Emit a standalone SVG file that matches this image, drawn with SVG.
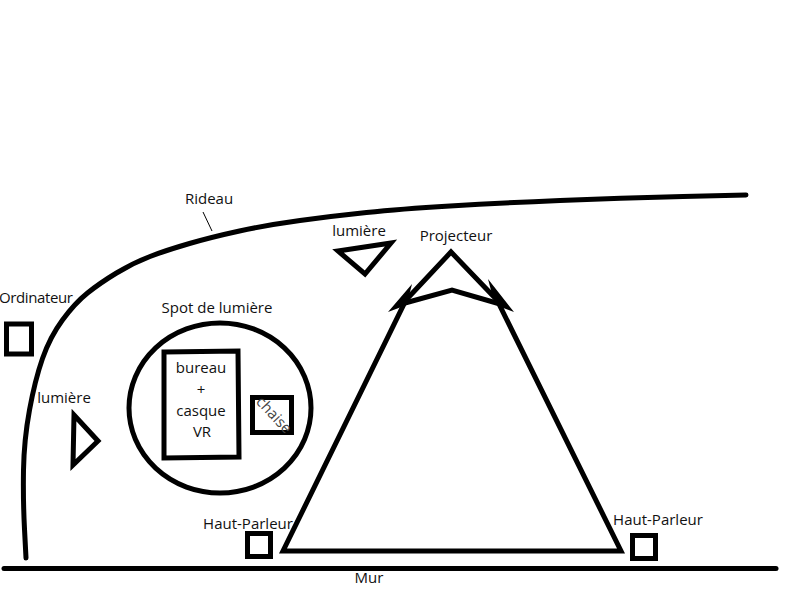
<svg xmlns="http://www.w3.org/2000/svg" width="800" height="600" viewBox="0 0 800 600">
<style>
.s{fill:none;stroke:#000;stroke-width:5;stroke-linejoin:miter;stroke-linecap:round}
.b{stroke-linecap:butt}
.t{font-family:"Open Sans","Noto Sans",sans-serif;font-size:15px;fill:#111;text-anchor:middle}
</style>
<rect width="800" height="600" fill="#fff"/>
<g id="connectors">
<path id="mur" class="s" d="M4 568.500H776"/>
<path id="rideau" class="s" d="M26 558L24.500 529Q23 500 23.500 470Q24 440 29.500 410Q35 380 42.500 358.500Q50 337 62.500 320Q75 303 87.500 293Q100 283 116.500 273Q133 263 150 256.500Q167 250 189.500 243.500Q212 237 239.500 231Q267 225 300 220.500Q333 216 366.500 212.500Q400 209 450 206Q500 203 560 200.500Q620 198 683 196.500L746 195"/>
<path id="rideau-leader" d="M203 212L212 231" fill="none" stroke="#000" stroke-width="1"/>
</g>
<g id="projecteur">
<path class="s" d="M283 551H621L497 300L451 252L406 300Z"/>
<path class="s" d="M405 303L452 290L500 304"/>
<path d="M388 312L412 284L408 300L404 306ZM514 312L488 279L493 298L498 306Z" fill="#000"/>
<text class="t" x="456" y="241">Projecteur</text>
</g>
<g id="rideau-label"><text class="t" x="209" y="204">Rideau</text></g>
<g id="lumiere-haut">
<path class="s" d="M338 251L391 243L365 274Z"/>
<text class="t" x="359" y="236">lumière</text>
</g>
<g id="ordinateur">
<rect class="s b" x="6.500" y="324" width="25" height="30"/>
<text class="t" x="36" y="303" textLength="74">Ordinateur</text>
</g>
<g id="lumiere-gauche">
<path class="s" d="M74 415L98 441L73 465Z"/>
<text class="t" x="64" y="403">lumière</text>
</g>
<g id="spot">
<ellipse class="s" cx="220" cy="408" rx="91" ry="85"/>
<text class="t" x="217" y="313">Spot de lumière</text>
</g>
<g id="bureau">
<path class="s" d="M164 352L238 351L239 457L164 458Z"/>
<text class="t" x="201" y="373">bureau</text>
<text class="t" x="201" y="395">+</text>
<text class="t" x="201" y="416">casque</text>
<text class="t" x="202" y="437">VR</text>
</g>
<g id="chaise">
<rect class="s b" x="252.500" y="397.500" width="39" height="35"/>
<text class="t" style="fill:#444" transform="translate(274 415) rotate(47)" y="5">chaise</text>
</g>
<g id="haut-parleur-gauche">
<rect class="s b" x="247.500" y="533.500" width="23" height="23"/>
<text class="t" x="248" y="529">Haut-Parleur</text>
</g>
<g id="haut-parleur-droit">
<rect class="s b" x="632.500" y="535.500" width="23" height="23"/>
<text class="t" x="658" y="525">Haut-Parleur</text>
</g>
<g id="mur-label"><text class="t" x="369" y="583">Mur</text></g>
</svg>
